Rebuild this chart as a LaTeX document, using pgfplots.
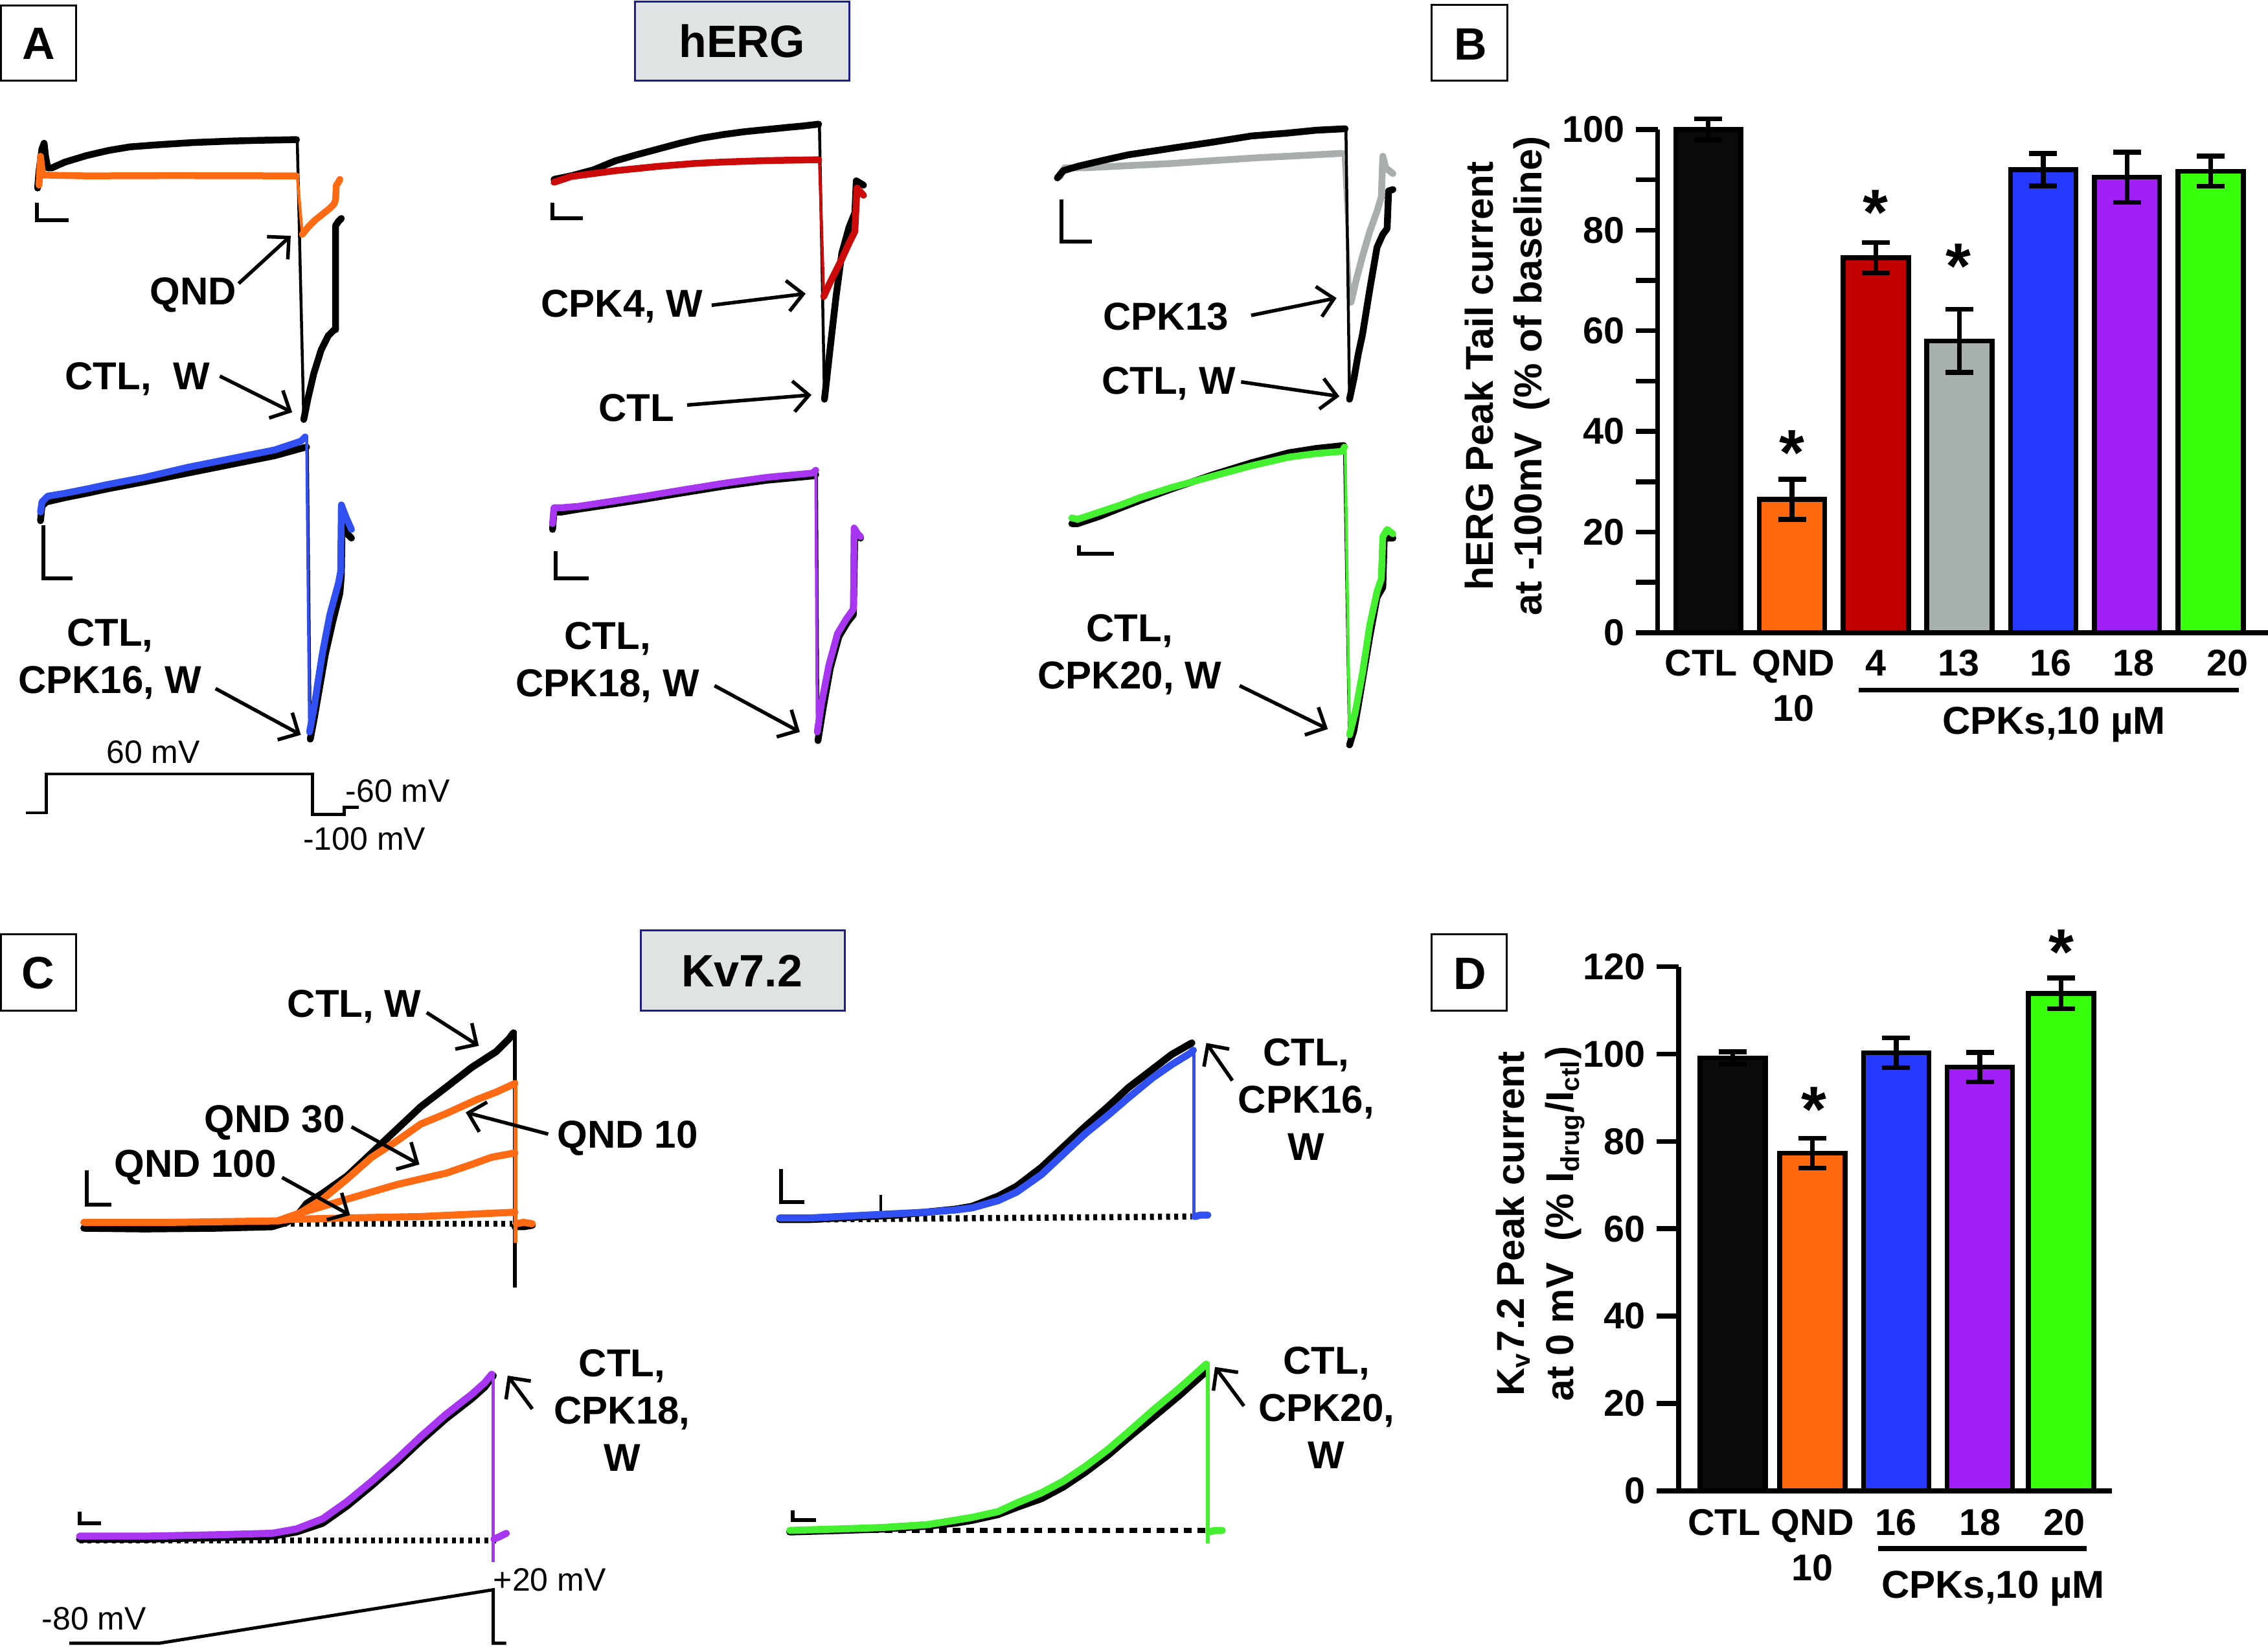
\documentclass[border=0pt]{standalone}
\usepackage{fontspec}
\setmainfont{Liberation Sans}
\setsansfont{Liberation Sans}
\usepackage{pgfplots}
\pgfplotsset{compat=1.18}
\usetikzlibrary{arrows.meta}

\definecolor{ctlbar}{HTML}{0B0B0B}
\definecolor{qndc}{HTML}{FF6A0E}
\definecolor{cpkfour}{HTML}{C20000}
\definecolor{cpkthirteen}{HTML}{A9B0B0}
\definecolor{cpksixteen}{HTML}{2639FF}
\definecolor{cpkeighteen}{HTML}{A020F5}
\definecolor{cpktwenty}{HTML}{38FF0A}
\definecolor{boxfill}{HTML}{E0E3E3}
\definecolor{boxnavy}{HTML}{1C1E8C}
\definecolor{trorange}{HTML}{FF6A13}
\definecolor{trred}{HTML}{CC0A0A}
\definecolor{trgray}{HTML}{A8AEAE}
\definecolor{trblue}{HTML}{3050F2}
\definecolor{trpurple}{HTML}{A835F0}
\definecolor{trgreen}{HTML}{44F030}

\pgfplotsset{
  tb/.style={line width=2.1pt, line join=round, line cap=round},
  tc/.style={line width=2.2pt, line join=round, line cap=round},
  td/.style={line width=0.9pt, line join=round},
  sb/.style={black, line width=1.2pt},
  dotl/.style={black, line width=1.9pt, dash pattern=on 1.2pt off 1.3pt},
  bars/.style={ybar, bar shift=0pt, draw=black, line width=1.5pt,
    /pgfplots/error bars/y dir=both, /pgfplots/error bars/y explicit,
    /pgfplots/error bars/error bar style={line width=1.5pt, black},
    /pgfplots/error bars/error mark options={rotate=90, black, line width=1.5pt, mark size=4.3pt}},
}
\tikzset{
  lab/.style={font=\fontsize{12}{14.6}\selectfont\bfseries, align=center, inner sep=0pt},
  panel/.style={font=\fontsize{14}{16}\selectfont\bfseries, inner sep=0pt},
  vlab/.style={font=\fontsize{10}{12}\selectfont, inner sep=0pt},
  arr/.style={line width=1.1pt, -{Straight Barb[length=4.8pt,width=9.5pt,line width=1.1pt]}},
  star/.style={font=\fontsize{20}{20}\selectfont\bfseries, inner sep=0pt},
}

\begin{document}
\begin{tikzpicture}
\useasboundingbox (0,0) rectangle (700.4pt,-508.59pt);

% ================= main canvas (traces, annotations) =================
\begin{axis}[at={(0pt,0pt)}, anchor=north west, scale only axis,
  width=700.4pt, height=508.59pt, xmin=0, xmax=1568, ymin=0, ymax=1138.6,
  y dir=reverse, hide axis, clip=false]

% ---- panel boxes ----
\draw[line width=0.6pt] (0.75,3.7) rectangle (52.5,55.6);
\node[panel] at (26.9,30.1) {A};
\draw[line width=0.6pt, draw=boxnavy, fill=boxfill] (439,1) rectangle (587,55.6);
\node[panel] at (513,28.2) {hERG};
\draw[line width=0.6pt] (989.5,3.5) rectangle (1042,55.6);
\node[panel] at (1016.5,30.5) {B};
\draw[line width=0.6pt] (0.75,646) rectangle (52.5,698.5);
\node[panel] at (26.5,672.7) {C};
\draw[line width=0.6pt, draw=boxnavy, fill=boxfill] (443,643) rectangle (584,698.5);
\node[panel] at (513,671) {Kv7.2};
\draw[line width=0.6pt] (989.5,646) rectangle (1041.8,698.5);
\node[panel] at (1016.4,673) {D};

% ---- A1: QND ----
\addplot[tb, black] coordinates {(26,130) (27,118) (29,103) (30.5,99) (31.5,108) (33,116) (36,116) (45,112) (60,107.5) (75,104) (90,101.5) (110,100) (134,98.5) (160,97.5) (179,97) (205,96.5)};
\addplot[td, black] coordinates {(205.5,96.5) (210,290)};
\addplot[tb, black] coordinates {(210,290) (213,275) (217,258) (222,242) (227,232) (231,228) (232,228) (232,156) (234,153) (236,151)};
\addplot[tb, trorange] coordinates {(27,128) (28,108) (29.5,121) (60,121.6) (120,121.4) (205,121.6)};
\addplot[td, trorange] coordinates {(205.5,121.6) (209,162)};
\addplot[tb, trorange] coordinates {(209,162) (213,157) (218,152) (223,148) (228,144) (231,141) (232,138) (232.5,128) (234,126) (235,124)};
\addplot[sb] coordinates {(25.4,140.3) (25.4,152.3) (47.5,152.3)};

% ---- A2: CPK4 ----
\addplot[tb, black] coordinates {(383,124) (395,121.5) (410,117.5) (425.4,111.2) (440,107) (455,103) (470,99) (485,95.5) (500,93) (515,91) (530,89.5) (545,88) (556,87) (566,85.8)};
\addplot[td, black] coordinates {(566.5,85) (570,276)};
\addplot[tb, black] coordinates {(570,276) (574,240) (578,205) (582,175) (587,157) (591,147) (592,125) (597,128)};
\addplot[tb, trred] coordinates {(383,126) (395,122) (410,120) (425.4,118) (455,115) (480,113) (500,112) (530,111) (566,110.4)};
\addplot[td, trred] coordinates {(566.5,110.4) (569.5,205)};
\addplot[tb, trred] coordinates {(569.5,205) (574,195) (578,187) (582,179) (587,168) (591,160) (592.5,130) (597,135)};
\addplot[sb] coordinates {(382,140) (382,151) (403,151)};

% ---- A3: CPK13 ----
\addplot[tb, trgray] coordinates {(733,122) (736,116) (750,116) (770,115) (790,114) (810,113) (839,111) (870,109) (900,107.5) (928,106)};
\addplot[td, trgray] coordinates {(928.5,106) (934,209)};
\addplot[tb, trgray] coordinates {(934,209) (938,192) (942,177) (947,160) (952,146) (955,136) (956,108) (958,116) (963,120)};
\addplot[tb, black] coordinates {(731,123) (735,118) (745,115) (762,111) (780,107) (800,104) (813,102) (840,98) (865,94) (890,92) (910,90) (930,89)};
\addplot[td, black] coordinates {(930.5,88) (933,276)};
\addplot[tb, black] coordinates {(933,276) (936,262) (939,245) (942,231) (947,200) (952,171) (956,162) (959,158) (960,132) (963,131)};
\addplot[sb] coordinates {(734,138) (734,167) (755,167)};

% ---- A4: CPK16 ----
\addplot[tb, black] coordinates {(28,360) (29,350) (32,347) (45,344) (60,341) (74,338) (100,333) (130,327) (160,321) (190,315) (208,310) (212,309)};
\addplot[td, black] coordinates {(212.5,309) (214.5,511)};
\addplot[tb, black] coordinates {(214.5,511) (217,498) (221,475) (225,452) (230,430) (235,410) (236,398) (236.5,362) (240,369) (243,372)};
\addplot[tb, trblue] coordinates {(28,354) (29,347) (33,343) (45,341) (60,338) (74,335) (100,330) (130,323) (160,317) (190,311) (208,305) (211,302)};
\addplot[td, trblue] coordinates {(212,302) (214,506)};
\addplot[tb, trblue] coordinates {(214,506) (217,490) (220,470) (223,451) (228,425) (234,403) (235.5,395) (236,349) (239,357) (243,366)};
\addplot[sb] coordinates {(30,363) (30,400) (50,400)};

% ---- A5: CPK18 ----
\addplot[tb, black] coordinates {(382,366) (383,354) (388,354) (400,352) (420,349) (446,345) (470,341) (501,336) (530,332) (562,329) (564,328)};
\addplot[td, black] coordinates {(564.5,328) (565.5,512)};
\addplot[tb, black] coordinates {(565.5,512) (569,490) (574,462) (580,440) (586,430) (590,425) (591,369) (595,372)};
\addplot[tb, trpurple] coordinates {(382,362) (383,351) (388,351) (400,350) (420,347) (446,343) (470,339) (501,334) (530,330) (562,327) (564,325)};
\addplot[td, trpurple] coordinates {(564,325) (565,506)};
\addplot[tb, trpurple] coordinates {(565,506) (568,486) (573,460) (579,438) (585,428) (590,421) (590.5,365) (593,369) (595,371)};
\addplot[sb] coordinates {(384,381) (384,400) (407,400)};

% ---- A6: CPK20 ----
\addplot[tb, black] coordinates {(741,362) (745,362) (760,357) (775,351) (788,346) (810,338) (839,328) (865,320) (891,313) (910,310) (929,308)};
\addplot[td, black] coordinates {(929.5,308) (933,515)};
\addplot[tb, black] coordinates {(933,515) (936,505) (939,488) (942,470) (947,440) (952,413) (956,406) (957,372) (963,372)};
\addplot[tb, trgreen] coordinates {(741,358) (745,359) (760,354) (775,349) (788,344) (810,337) (839,329) (865,322) (891,316) (910,313.5) (928,312) (929.5,309)};
\addplot[td, trgreen] coordinates {(930,309) (933,508)};
\addplot[tb, trgreen] coordinates {(933,508) (937,492) (942,465) (947,432) (952,409) (955,400) (956,371) (959,366) (963,369)};
\addplot[sb] coordinates {(746,377) (746,383) (770,383)};

% ---- A labels and arrows ----
\node[lab] at (133.5,204) {QND};
\draw[arr] (165,196) -- (201,163);
\node[lab] at (95,262) {CTL,\ \ W};
\draw[arr] (152,260) -- (202,285);
\node[lab] at (430,212) {CPK4, W};
\draw[arr] (492,211) -- (557,203);
\node[lab] at (440,282) {CTL};
\draw[arr] (475,280) -- (561,273);
\node[lab] at (806,219) {CPK13};
\draw[arr] (865,218) -- (924,206);
\node[lab] at (808,265) {CTL, W};
\draw[arr] (858,264) -- (926,274);
\node[lab] at (76,455.5) {CTL,\\CPK16, W};
\draw[arr] (149,476) -- (208,508);
\node[lab] at (420,458) {CTL,\\CPK18, W};
\draw[arr] (494,474) -- (553,506);
\node[lab] at (781,452.5) {CTL,\\CPK20, W};
\draw[arr] (857,474) -- (918,504);

% ---- hERG protocol ----
\addplot[black, line width=0.9pt] coordinates {(18,562) (32,562) (32,535) (216,535) (216,563) (238,563) (238,558) (248,558)};
\node[vlab] at (106,520) {60 mV};
\node[vlab] at (275,547) {-60 mV};
\node[vlab] at (252,580) {-100 mV};

% ---- C1: QND on Kv7.2 ----
\addplot[dotl] coordinates {(190,846) (354,846)};
\addplot[tc, black] coordinates {(58,849) (100,849.5) (150,849) (188,848) (198,845) (205,841) (212,832) (223,825) (240,813) (257,797) (274,781) (291,765) (308,752) (326,738) (343,727) (352,718) (355,714)};
\addplot[line width=1.2pt, black] coordinates {(356,713) (356,890)};
\addplot[tc, black] coordinates {(356,848) (362,848) (368,847)};
\addplot[tc, trorange] coordinates {(58,845) (120,845) (192,844) (199,843) (240,842) (291,841) (356,838)};
\addplot[tc, trorange] coordinates {(192,844) (206,839) (223,834) (240,829) (257,824) (274,819) (291,815) (308.5,811) (326,805) (340,800) (356,797)};
\addplot[tc, trorange] coordinates {(192,844) (205,840) (223,829) (240,815) (257,800) (274,789) (291,777) (308,770) (319,765) (330,760) (343,755) (356,749)};
\addplot[line width=1.2pt, trorange] coordinates {(356.5,747) (356.5,859)};
\addplot[tc, trorange] coordinates {(357,846) (362,845) (368,846)};
\addplot[sb] coordinates {(60,809) (60,833) (77,833)};
\node[lab] at (245,696) {CTL, W};
\draw[arr] (295,700) -- (331,723);
\node[lab] at (190,776) {QND 30};
\draw[arr] (243,779) -- (290,805);
\node[lab] at (135,807) {QND 100};
\draw[arr] (195,814) -- (242,840);
\node[lab] at (434,787) {QND 10};
\draw[arr] (379,784) -- (322,769);

% ---- C2: CPK16 ----
\addplot[dotl] coordinates {(560,843) (824,841)};
\addplot[tc, black] coordinates {(539,843) (560,843) (580,842) (600,841) (620,840) (640,838) (660,836) (672,834) (690,827) (703,820) (720,807) (735,793) (750,779) (766,765) (780,752) (797,739) (810,729) (824,721)};
\addplot[line width=0.9pt, black] coordinates {(609,826) (609,839)};
\addplot[tc, trblue] coordinates {(539,842) (560,842) (580,841) (600,840) (620,839) (640,838) (660,836.5) (672,835) (690,830) (703,824) (720,812) (735,798) (750,784) (766,771) (780,759) (797,745) (810,736) (823,728) (825,726)};
\addplot[line width=1.1pt, trblue] coordinates {(825.5,725) (825.5,843)};
\addplot[tc, trblue] coordinates {(826,841) (830,840) (835,840)};
\addplot[sb] coordinates {(540,808) (540,831) (556,831)};
\node[lab] at (903,760) {CTL,\\CPK16,\\W};
\draw[arr] (852,747) -- (834,721);

% ---- C3: CPK18 ----
\addplot[dotl] coordinates {(55,1065) (343,1065)};
\addplot[tc, black] coordinates {(55,1064) (100,1064) (150,1063) (188,1062) (205,1059) (223,1053) (240,1041) (257,1027) (274,1012) (291,996) (308,981) (326,967) (335,959) (341,951)};
\addplot[tc, trpurple] coordinates {(55,1062) (100,1062) (150,1061) (188,1060) (205,1057) (223,1050) (240,1038) (257,1024) (274,1009) (291,993) (308,978) (326,964) (335,956) (340,950)};
\addplot[line width=1.1pt, trpurple] coordinates {(341,950) (341,1080)};
\addplot[tc, trpurple] coordinates {(341.5,1064) (346,1062) (350,1060)};
\addplot[sb] coordinates {(55,1045) (55,1053) (70,1053)};
\node[lab] at (430,975) {CTL,\\CPK18,\\W};
\draw[arr] (368,974) -- (351,951);

% ---- Kv7.2 protocol ----
\addplot[black, line width=1.0pt] coordinates {(48,1136) (110,1136) (341,1099) (341,1136) (350,1136)};
\node[vlab] at (65,1119) {-80 mV};
\node[vlab] at (380,1092) {+20 mV};

% ---- C4: CPK20 ----
\addplot[black, line width=1.5pt, dash pattern=on 2.4pt off 1.8pt] coordinates {(546,1058) (845,1058)};
\addplot[tc, black] coordinates {(546,1059) (580,1058) (610,1057) (641,1055) (660,1053) (672,1051) (690,1047) (703,1042) (720,1036) (735,1028) (750,1018) (766,1006) (780,994) (797,980) (815,965) (834,948)};
\addplot[tc, trgreen] coordinates {(546,1058) (580,1057) (610,1056) (641,1054) (660,1051) (672,1049) (690,1045) (703,1039) (720,1032) (735,1024) (750,1014) (766,1002) (780,990) (797,975) (815,960) (834,943)};
\addplot[line width=1.1pt, trgreen] coordinates {(835,943) (835,1067)};
\addplot[tc, trgreen] coordinates {(836,1059) (840,1058) (845,1058)};
\addplot[sb] coordinates {(548,1044) (548,1051) (564,1051)};
\node[lab] at (917,973) {CTL,\\CPK20,\\W};
\draw[arr] (860,972) -- (840,945);
\end{axis}

% ================= Panel B =================
\begin{axis}[at={(511.90pt,-195.38pt)}, anchor=south west, scale only axis,
  width=188.50pt, height=155.40pt,
  xmin=-0.6045, xmax=6.684, ymin=0, ymax=100,
  axis x line=bottom, axis y line=left,
  axis line style={-, line width=1.5pt}, clip=false,
  ytick={0,20,...,100}, minor ytick={10,30,...,90},
  tick align=outside, major tick length=6.7pt, minor tick length=6.7pt,
  ytick style={line width=1.5pt, black},
  xtick={-0.086,1.019,2.003,2.988,4.086,5.078,6.2},
  xticklabels={CTL,{QND\\10},4,13,16,18,20},
  xtick style={draw=none},
  xticklabel style={font=\fontsize{11.5}{13.9}\selectfont\bfseries, align=center, anchor=north, yshift=4.9pt},
  yticklabel style={font=\fontsize{11.5}{13}\selectfont\bfseries},
  /pgf/number format/assume math mode=true,
  ylabel={hERG Peak Tail current\\at -100mV\ \ (\% of baseline)},
  ylabel style={font=\fontsize{12}{15}\selectfont\bfseries, align=center,
    at={(axis description cs:-0.2464,0.51)}, anchor=center},
]
\addplot[fill=ctlbar, bar width=0.78, bars] coordinates {(0,100) +- (0,2.1)};
\addplot[fill=qndc, bar width=0.78, bars] coordinates {(1,26.5) +- (0,4.0)};
\addplot[fill=cpkfour, bar width=0.78, bars] coordinates {(2,74.5) +- (0,3.0)};
\addplot[fill=cpkthirteen, bar width=0.78, bars] coordinates {(3,58.0) +- (0,6.3)};
\addplot[fill=cpksixteen, bar width=0.78, bars] coordinates {(4,92.0) +- (0,3.2)};
\addplot[fill=cpkeighteen, bar width=0.78, bars] coordinates {(5,90.5) +- (0,5.0)};
\addplot[fill=cpktwenty, bar width=0.78, bars] coordinates {(6,91.7) +- (0,3.0)};
\node[star] at (axis cs:1,35.8) {*};
\node[star] at (axis cs:2,83.5) {*};
\node[star] at (axis cs:2.99,72.8) {*};
\draw[line width=1.5pt] (axis cs:1.796,-11.4) -- (axis cs:6.339,-11.4);
\node[lab] at (axis cs:4.128,-18.3) {CPKs,10 µM};
\end{axis}

% ================= Panel D =================
\begin{axis}[at={(518.38pt,-460.35pt)}, anchor=south west, scale only axis,
  width=133.78pt, height=161.83pt,
  xmin=-0.661, xmax=4.617, ymin=0, ymax=120,
  axis x line=bottom, axis y line=left,
  axis line style={-, line width=1.5pt}, clip=false,
  ytick={0,20,...,120},
  tick align=outside, major tick length=6.7pt,
  ytick style={line width=1.5pt, black},
  xtick={-0.106,0.97,1.99,3.01,4.04},
  xticklabels={CTL,{QND\\10},16,18,20},
  xtick style={draw=none},
  xticklabel style={font=\fontsize{11.5}{14}\selectfont\bfseries, align=center, anchor=north, yshift=4.5pt},
  yticklabel style={font=\fontsize{11.5}{13}\selectfont\bfseries},
  /pgf/number format/assume math mode=true,
  ylabel={K\textsubscript{v}7.2 Peak current\\at 0 mV\ \ (\% I\textsubscript{drug}/I\textsubscript{ctl})},
  ylabel style={font=\fontsize{12}{15.2}\selectfont\bfseries, align=center,
    at={(axis description cs:-0.319,0.5095)}, anchor=center},
]
\addplot[fill=ctlbar, bar width=0.797, bars] coordinates {(0,99.1) +- (0,1.4)};
\addplot[fill=qndc, bar width=0.797, bars] coordinates {(0.97,77.3) +- (0,3.4)};
\addplot[fill=cpksixteen, bar width=0.797, bars] coordinates {(1.99,100.3) +- (0,3.4)};
\addplot[fill=cpkeighteen, bar width=0.797, bars] coordinates {(3.01,97.0) +- (0,3.4)};
\addplot[fill=cpktwenty, bar width=0.797, bars] coordinates {(4,113.9) +- (0,3.5)};
\node[star] at (axis cs:0.987,87.3) {*};
\node[star] at (axis cs:4,123.4) {*};
\draw[line width=1.5pt] (axis cs:1.771,-13.25) -- (axis cs:4.31,-13.25);
\node[lab] at (axis cs:3.17,-22.4) {CPKs,10 µM};
\end{axis}
\end{tikzpicture}
\end{document}
